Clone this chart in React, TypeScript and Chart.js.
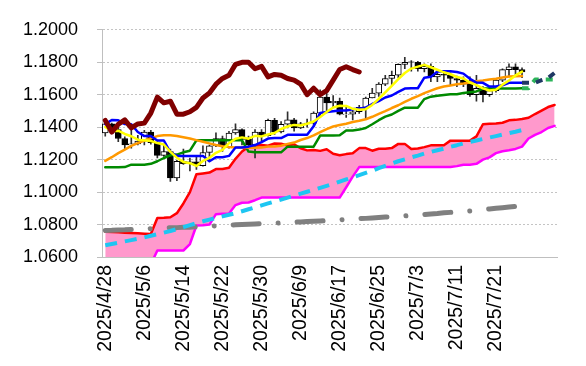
import React, { useEffect, useRef } from 'react';
import { Chart, registerables } from 'chart.js';

Chart.register(...registerables);

// ---- categories (business days) ----
const dates = [
  '2025/4/28', '2025/4/29', '2025/4/30', '2025/5/1', '2025/5/2',
  '2025/5/5', '2025/5/6', '2025/5/7', '2025/5/8', '2025/5/9',
  '2025/5/12', '2025/5/13', '2025/5/14', '2025/5/15', '2025/5/16',
  '2025/5/19', '2025/5/20', '2025/5/21', '2025/5/22', '2025/5/23',
  '2025/5/26', '2025/5/27', '2025/5/28', '2025/5/29', '2025/5/30',
  '2025/6/2', '2025/6/3', '2025/6/4', '2025/6/5', '2025/6/6',
  '2025/6/9', '2025/6/10', '2025/6/11', '2025/6/12', '2025/6/13',
  '2025/6/16', '2025/6/17', '2025/6/18', '2025/6/19', '2025/6/20',
  '2025/6/23', '2025/6/24', '2025/6/25', '2025/6/26', '2025/6/27',
  '2025/6/30', '2025/7/1', '2025/7/2', '2025/7/3', '2025/7/4',
  '2025/7/7', '2025/7/8', '2025/7/9', '2025/7/10', '2025/7/11',
  '2025/7/14', '2025/7/15', '2025/7/16', '2025/7/17', '2025/7/18',
  '2025/7/21', '2025/7/22', '2025/7/23', '2025/7/24', '2025/7/25',
];
const futureSlots = ['', '', '', '', ''];
const labelEvery = 6;
const yTicks = { min: 1.06, max: 1.2, step: 0.02 };

// ---- candles ----
const open = [
  1.1365, 1.1420, 1.1385, 1.1330, 1.1290, 1.1297, 1.1314, 1.1370, 1.1305, 1.1226,
  1.1250, 1.1088, 1.1190, 1.1175, 1.1187, 1.1163, 1.1244, 1.1285, 1.1330, 1.1280,
  1.1364, 1.1385, 1.1325, 1.1290, 1.1370, 1.1347, 1.1442, 1.1370, 1.1418, 1.1445,
  1.1396, 1.1420, 1.1425, 1.1487, 1.1585, 1.1550, 1.1560, 1.1478, 1.1480, 1.1495,
  1.1522, 1.1580, 1.1610, 1.1665, 1.1700, 1.1720, 1.1787, 1.1802, 1.1800, 1.1760,
  1.1775, 1.1710, 1.1725, 1.1720, 1.1700, 1.1690, 1.1665, 1.1600, 1.1640, 1.1600,
  1.1625, 1.1690, 1.1755, 1.1772, 1.1755,
];
const high = [
  1.1425, 1.1425, 1.1425, 1.1340, 1.1380, 1.1350, 1.1380, 1.1380, 1.1315, 1.1293,
  1.1265, 1.1195, 1.1265, 1.1210, 1.1225, 1.1285, 1.1290, 1.1365, 1.1345, 1.1375,
  1.1420, 1.1390, 1.1345, 1.1385, 1.1385, 1.1450, 1.1455, 1.1435, 1.1495, 1.1455,
  1.1430, 1.1450, 1.1495, 1.1630, 1.1615, 1.1595, 1.1580, 1.1530, 1.1505, 1.1535,
  1.1585, 1.1640, 1.1675, 1.1720, 1.1745, 1.1790, 1.1830, 1.1810, 1.1805, 1.1790,
  1.1790, 1.1745, 1.1745, 1.1735, 1.1715, 1.1710, 1.1710, 1.1720, 1.1650, 1.1650,
  1.1700, 1.1760, 1.1790, 1.1790, 1.1765,
];
const low = [
  1.1345, 1.1360, 1.1310, 1.1265, 1.1270, 1.1290, 1.1290, 1.1295, 1.1210, 1.1220,
  1.1065, 1.1070, 1.1170, 1.1130, 1.1140, 1.1160, 1.1195, 1.1280, 1.1250, 1.1270,
  1.1355, 1.1290, 1.1280, 1.1210, 1.1315, 1.1345, 1.1355, 1.1365, 1.1395, 1.1375,
  1.1390, 1.1400, 1.1410, 1.1470, 1.1490, 1.1525, 1.1475, 1.1460, 1.1445, 1.1485,
  1.1450, 1.1580, 1.1590, 1.1655, 1.1660, 1.1705, 1.1760, 1.1745, 1.1745, 1.1740,
  1.1680, 1.1680, 1.1680, 1.1660, 1.1650, 1.1650, 1.1590, 1.1560, 1.1555, 1.1590,
  1.1615, 1.1680, 1.1710, 1.1715, 1.1705,
];
const close = [
  1.1420, 1.1385, 1.1330, 1.1290, 1.1297, 1.1314, 1.1370, 1.1305, 1.1226, 1.1250,
  1.1088, 1.1190, 1.1175, 1.1187, 1.1163, 1.1244, 1.1285, 1.1330, 1.1280, 1.1364,
  1.1385, 1.1325, 1.1290, 1.1370, 1.1347, 1.1442, 1.1370, 1.1418, 1.1445, 1.1396,
  1.1420, 1.1425, 1.1487, 1.1585, 1.1550, 1.1560, 1.1480, 1.1480, 1.1495, 1.1522,
  1.1580, 1.1610, 1.1665, 1.1700, 1.1720, 1.1787, 1.1800, 1.1800, 1.1760, 1.1775,
  1.1710, 1.1725, 1.1720, 1.1700, 1.1690, 1.1665, 1.1600, 1.1640, 1.1600, 1.1625,
  1.1690, 1.1755, 1.1772, 1.1755, 1.1740,
];
const chikouShift = 25;

// ---- lines ----
const tenkan = [
  1.1419, 1.1444, 1.1442, 1.1419, 1.1418, 1.1370, 1.1345, 1.1345, 1.1318, 1.1318,
  1.1245, 1.1223, 1.1223, 1.1223, 1.1223, 1.1223, 1.1190, 1.1215, 1.1215, 1.1223,
  1.1275, 1.1275, 1.1280, 1.1290, 1.1308, 1.1330, 1.1333, 1.1333, 1.1353, 1.1353,
  1.1353, 1.1353, 1.1405, 1.1488, 1.1493, 1.1498, 1.1503, 1.1503, 1.1510, 1.1515,
  1.1520, 1.1543, 1.1560, 1.1583, 1.1595, 1.1618, 1.1638, 1.1640, 1.1640, 1.1705,
  1.1710, 1.1743, 1.1745, 1.1745, 1.1740, 1.1730, 1.1698, 1.1675, 1.1673, 1.1650,
  1.1650, 1.1658, 1.1673, 1.1673, 1.1673,
];
const kijun = [
  1.1153, 1.1153, 1.1153, 1.1154, 1.1169, 1.1169, 1.1169, 1.1174, 1.1190, 1.1210,
  1.1227, 1.1231, 1.1245, 1.1255, 1.1319, 1.1319, 1.1319, 1.1319, 1.1319, 1.1319,
  1.1319, 1.1319, 1.1250, 1.1245, 1.1245, 1.1245, 1.1245, 1.1245, 1.1280, 1.1280,
  1.1280, 1.1280, 1.1280, 1.1348, 1.1348, 1.1348, 1.1350, 1.1380, 1.1380, 1.1385,
  1.1395, 1.1418, 1.1443, 1.1465, 1.1478, 1.1500, 1.1520, 1.1520, 1.1520, 1.1573,
  1.1588, 1.1593, 1.1598, 1.1603, 1.1603, 1.1610, 1.1615, 1.1620, 1.1638, 1.1638,
  1.1638, 1.1638, 1.1638, 1.1638, 1.1640,
];
const ma5 = [
  1.1401, 1.1375, 1.1378, 1.1358, 1.1344, 1.1323, 1.1320, 1.1315, 1.1302, 1.1293,
  1.1248, 1.1212, 1.1186, 1.1178, 1.1161, 1.1192, 1.1211, 1.1242, 1.1260, 1.1301,
  1.1329, 1.1337, 1.1329, 1.1347, 1.1343, 1.1355, 1.1364, 1.1389, 1.1404, 1.1414,
  1.1410, 1.1421, 1.1435, 1.1463, 1.1493, 1.1521, 1.1532, 1.1531, 1.1513, 1.1507,
  1.1511, 1.1537, 1.1574, 1.1615, 1.1655, 1.1696, 1.1734, 1.1761, 1.1773, 1.1784,
  1.1769, 1.1754, 1.1738, 1.1726, 1.1709, 1.1700, 1.1675, 1.1659, 1.1639, 1.1626,
  1.1631, 1.1662, 1.1688, 1.1719, 1.1742,
];
const ma20 = [
  1.1192, 1.1215, 1.1240, 1.1262, 1.1285, 1.1302, 1.1318, 1.1332, 1.1345, 1.1350,
  1.1350, 1.1345, 1.1338, 1.1330, 1.1320, 1.1310, 1.1300, 1.1290, 1.1282, 1.1278,
  1.1275, 1.1274, 1.1273, 1.1273, 1.1274, 1.1281, 1.1281, 1.1286, 1.1297, 1.1305,
  1.1321, 1.1333, 1.1349, 1.1369, 1.1388, 1.1404, 1.1413, 1.1421, 1.1432, 1.1440,
  1.1449, 1.1464, 1.1482, 1.1499, 1.1518, 1.1535, 1.1556, 1.1575, 1.1591, 1.1610,
  1.1625, 1.1640, 1.1651, 1.1657, 1.1664, 1.1669, 1.1675, 1.1683, 1.1688, 1.1694,
  1.1699, 1.1706, 1.1712, 1.1714, 1.1715,
];
const maMid = [
  1.0672, 1.0680, 1.0688, 1.0696, 1.0704, 1.0712, 1.0721, 1.0731, 1.0740, 1.0750,
  1.0760, 1.0772, 1.0784, 1.0796, 1.0808, 1.0820, 1.0830, 1.0840, 1.0850, 1.0860,
  1.0870, 1.0882, 1.0894, 1.0906, 1.0918, 1.0930, 1.0942, 1.0954, 1.0966, 1.0978,
  1.0990, 1.1002, 1.1014, 1.1026, 1.1038, 1.1050, 1.1064, 1.1078, 1.1091, 1.1104,
  1.1118, 1.1132, 1.1147, 1.1161, 1.1176, 1.1190, 1.1202, 1.1214, 1.1225, 1.1237,
  1.1248, 1.1258, 1.1268, 1.1279, 1.1289, 1.1300, 1.1309, 1.1318, 1.1327, 1.1336,
  1.1345, 1.1354, 1.1363, 1.1372, 1.1382,
];
const maLong = [
  1.0764, 1.0765, 1.0767, 1.0768, 1.0770, 1.0772, 1.0773, 1.0775, 1.0776, 1.0778,
  1.0780, 1.0781, 1.0783, 1.0784, 1.0786, 1.0788, 1.0790, 1.0792, 1.0794, 1.0796,
  1.0798, 1.0800, 1.0802, 1.0804, 1.0806, 1.0807, 1.0809, 1.0810, 1.0812, 1.0814,
  1.0816, 1.0818, 1.0820, 1.0822, 1.0824, 1.0826, 1.0829, 1.0831, 1.0834, 1.0836,
  1.0838, 1.0841, 1.0844, 1.0846, 1.0848, 1.0851, 1.0853, 1.0856, 1.0859, 1.0862,
  1.0865, 1.0868, 1.0872, 1.0875, 1.0878, 1.0880, 1.0884, 1.0888, 1.0892, 1.0896,
  1.0900, 1.0904, 1.0908, 1.0912, 1.0915,
];
// cloud (70 slots, includes the 5 future slots)
const senkouA = [
  1.0755, 1.0754, 1.0752, 1.0750, 1.0748, 1.0746, 1.0744, 1.0742, 1.0840, 1.0842,
  1.0845, 1.0870, 1.0930, 1.1000, 1.1110, 1.1115, 1.1120, 1.1142, 1.1142, 1.1150,
  1.1205, 1.1250, 1.1280, 1.1285, 1.1290, 1.1286, 1.1299, 1.1298, 1.1287, 1.1294,
  1.1270, 1.1257, 1.1260, 1.1254, 1.1264, 1.1236, 1.1227, 1.1234, 1.1239, 1.1271,
  1.1271, 1.1255, 1.1267, 1.1267, 1.1271, 1.1297, 1.1297, 1.1265, 1.1268, 1.1277,
  1.1288, 1.1289, 1.1289, 1.1317, 1.1317, 1.1317, 1.1317, 1.1343, 1.1418, 1.1421,
  1.1423, 1.1427, 1.1442, 1.1445, 1.1450, 1.1458, 1.1481, 1.1502, 1.1524, 1.1537,
];
const senkouB = [
  1.0555, 1.0555, 1.0555, 1.0555, 1.0555, 1.0555, 1.0555, 1.0555, 1.0640, 1.0640,
  1.0640, 1.0640, 1.0640, 1.0680, 1.0794, 1.0795, 1.0800, 1.0864, 1.0866, 1.0868,
  1.0920, 1.0934, 1.0936, 1.0950, 1.0966, 1.0966, 1.0966, 1.0966, 1.0966, 1.0966,
  1.0966, 1.0966, 1.0966, 1.0966, 1.0966, 1.0966, 1.0966, 1.1030, 1.1095, 1.1154,
  1.1154, 1.1154, 1.1154, 1.1154, 1.1154, 1.1154, 1.1154, 1.1154, 1.1154, 1.1154,
  1.1154, 1.1154, 1.1154, 1.1154, 1.1160, 1.1169, 1.1169, 1.1174, 1.1200, 1.1214,
  1.1240, 1.1252, 1.1258, 1.1266, 1.1280, 1.1330, 1.1353, 1.1370, 1.1395, 1.1408,
];
// projections from the last candle into the future slots
const tenkanAhead = [1.1673, 1.1673, 1.1673, 1.1690, 1.1703, 1.1735];
const kijunAhead = [1.1640, 1.1640, 1.1693, 1.1693, 1.1693, 1.1693];

export default function App() {
  const ref = useRef<HTMLCanvasElement | null>(null);

  useEffect(() => {
    document.body.style.margin = '0';
    const labels = [...dates, ...futureSlots];
    const N = labels.length;
    const pad = (arr: number[], start = 0) => {
      const out: (number | null)[] = new Array(N).fill(null);
      arr.forEach((v, k) => { out[start + k] = v; });
      return out;
    };
    const chikou: (number | null)[] = new Array(N).fill(null);
    close.forEach((v, k) => { if (k - chikouShift >= 0) chikou[k - chikouShift] = v; });
    const wicks = labels.map((_, i) => (i < low.length ? [low[i], high[i]] : null));
    const bodies = labels.map((_, i) => (i < open.length ? [open[i], close[i]] : null));
    const bodyColors = labels.map((_, i) => (i < open.length && close[i] < open[i] ? '#000000' : '#ffffff'));

    Chart.defaults.font.family = "'Liberation Sans', Arial, sans-serif";
    Chart.defaults.color = '#000000';

    const line = (data: any, color: string, width: number, order: number, extra: any = {}) => ({
      type: 'line', data, borderColor: color, borderWidth: width, pointRadius: 0, pointHoverRadius: 0,
      tension: 0, fill: false, order, borderJoinStyle: 'round', borderCapStyle: 'round', ...extra,
    });

    const chart = new Chart(ref.current as HTMLCanvasElement, {
      type: 'line',
      data: {
        labels,
        datasets: [
          line(senkouA, '#ff0000', 2.5, 20, { fill: '+1', backgroundColor: '#ff99cc' }),
          line(senkouB, '#ff00ff', 2.5, 19),
          line(pad(maLong), '#808080', 5, 18, { borderDash: [26, 19, 0.01, 19] }),
          line(pad(maMid), '#1ec6f2', 4, 17, { borderDash: [12, 8], borderCapStyle: 'butt' }),
          { type: 'bar', data: wicks, backgroundColor: '#303030', barThickness: 1, grouped: false, order: 16 },
          { type: 'bar', data: bodies, backgroundColor: bodyColors, borderColor: '#000000', borderWidth: 1,
            borderSkipped: false, barThickness: 6, grouped: false, order: 15 },
          line(pad(kijun), '#008a00', 2.5, 6),
          line(pad(ma20), '#ff9900', 2.5, 5),
          line(pad(tenkan), '#0000ff', 2.5, 4),
          line(pad(ma5), '#ffff00', 2.5, 3),
          line(chikou, '#800000', 5, 2),
          line(pad(kijunAhead, dates.length - 1), '#2cb45a', 4, 1, { borderDash: [7, 7], borderCapStyle: 'butt' }),
          line(pad(tenkanAhead, dates.length - 1), '#1f3864', 4, 0, { borderDash: [7, 7], borderCapStyle: 'butt' }),
        ] as any,
      },
      options: {
        responsive: false,
        animation: false,
        events: [],
        layout: { padding: { top: 24, right: 3, bottom: 0, left: 0 } },
        plugins: {
          legend: { display: false },
          tooltip: { enabled: false },
          filler: { drawTime: 'beforeDatasetsDraw' },
        },
        scales: {
          x: {
            type: 'category',
            offset: true,
            grid: { display: false, drawTicks: false, offset: true },
            border: { display: true, color: '#bfbfbf', width: 1 },
            ticks: {
              autoSkip: false,
              minRotation: 90,
              maxRotation: 90,
              padding: 8,
              font: { size: 19.5 },
              color: '#000000',
              callback: (_v: any, i: number) => (i % labelEvery === 0 && labels[i] ? labels[i] : ''),
            },
            afterFit: (scale: any) => { scale.height = 109; },
          },
          y: {
            min: yTicks.min,
            max: yTicks.max,
            grid: { color: '#c4c4c4', lineWidth: 1, tickLength: 5, tickColor: '#bfbfbf' },
            border: { display: true, color: '#bfbfbf', width: 1, dash: [2, 2] },
            ticks: {
              stepSize: yTicks.step,
              padding: 19,
              font: { size: 18 },
              color: '#000000',
              callback: (v: any) => Number(v).toFixed(4),
            },
            afterFit: (scale: any) => { scale.width = 102; },
          },
        },
      } as any,
    });
    return () => chart.destroy();
  }, []);

  return (
    <div style={{ position: 'fixed', left: 0, top: 0, width: 586, height: 366, background: '#fff' }}>
      <canvas ref={ref} width={586} height={366} style={{ display: 'block' }} />
    </div>
  );
}
